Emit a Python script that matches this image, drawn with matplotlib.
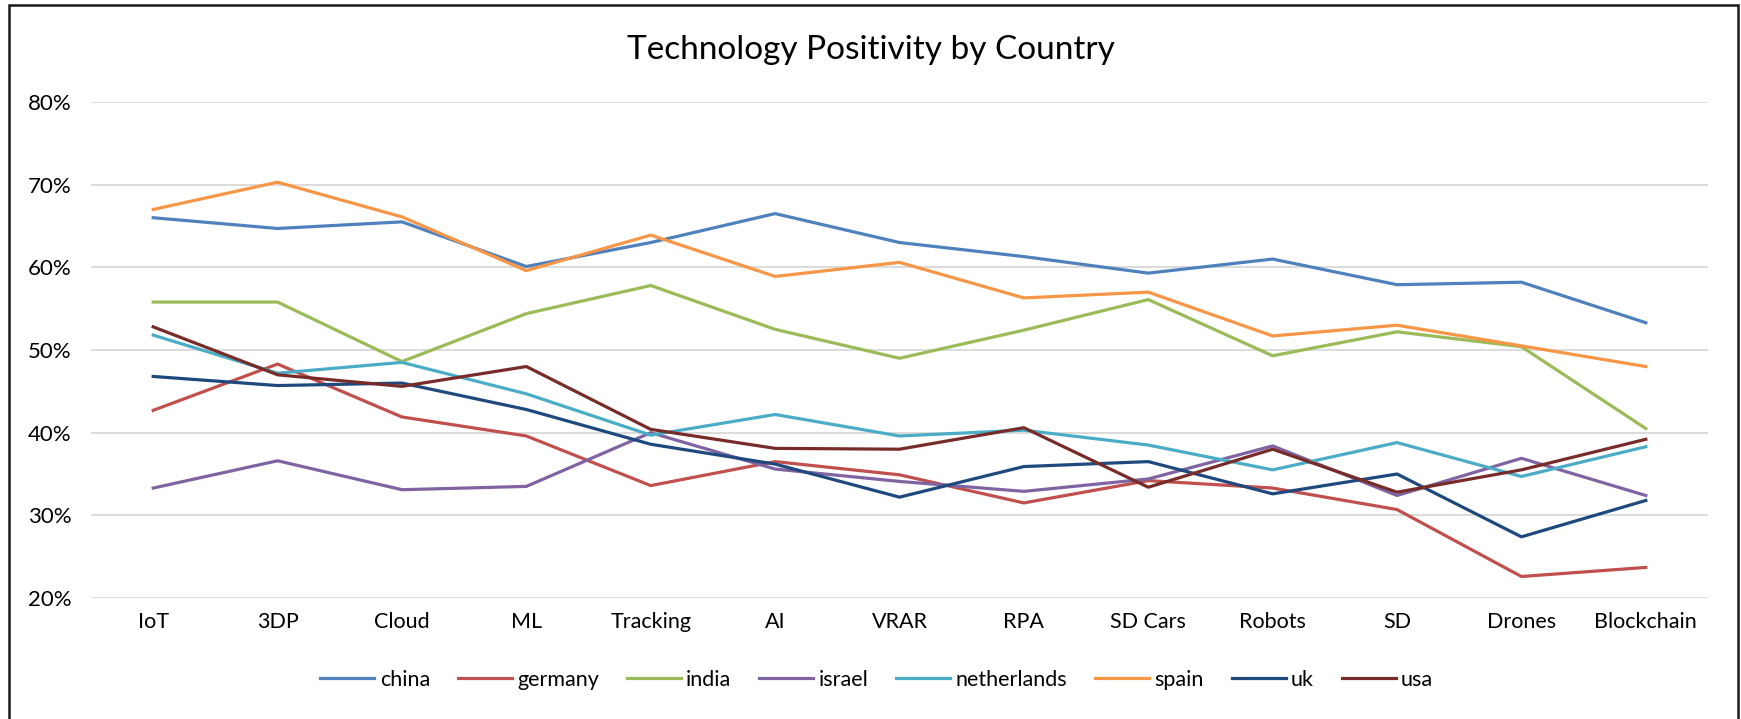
import matplotlib.pyplot as plt
from matplotlib.patches import Rectangle
from matplotlib.ticker import FuncFormatter

# ==========================================
# DATA
# ==========================================
categories = ["IoT", "3DP", "Cloud", "ML", "Tracking", "AI", "VRAR", "RPA",
              "SD Cars", "Robots", "SD", "Drones", "Blockchain"]

china       = [66.0, 64.7, 65.5, 60.1, 63.0, 66.5, 63.0, 61.3, 59.3, 61.0, 57.9, 58.2, 53.3]
germany     = [42.7, 48.3, 41.9, 39.6, 33.6, 36.5, 34.9, 31.5, 34.2, 33.3, 30.7, 22.6, 23.7]
india       = [55.8, 55.8, 48.6, 54.4, 57.8, 52.5, 49.0, 52.4, 56.1, 49.3, 52.2, 50.4, 40.5]
israel      = [33.3, 36.6, 33.1, 33.5, 40.0, 35.6, 34.1, 32.9, 34.4, 38.4, 32.4, 36.9, 32.4]
netherlands = [51.8, 47.2, 48.5, 44.7, 39.7, 42.2, 39.6, 40.3, 38.5, 35.5, 38.8, 34.7, 38.3]
spain       = [67.0, 70.3, 66.1, 59.6, 63.9, 58.9, 60.6, 56.3, 57.0, 51.7, 53.0, 50.5, 48.0]
uk          = [46.8, 45.7, 46.0, 42.8, 38.6, 36.2, 32.2, 35.9, 36.5, 32.6, 35.0, 27.4, 31.8]
usa         = [52.8, 47.0, 45.6, 48.0, 40.4, 38.1, 38.0, 40.6, 33.4, 38.0, 32.8, 35.5, 39.2]

series_names = ["china", "germany", "india", "israel", "netherlands", "spain", "uk", "usa"]
series_values = [china, germany, india, israel, netherlands, spain, uk, usa]
colors = ["#4F81BD", "#C0504D", "#9BBB59", "#8064A2", "#4BACC6", "#F79646", "#1F497D", "#772C2A"]

yticks = [20, 30, 40, 50, 60, 70, 80]

# ==========================================
# PLOT
# ==========================================
plt.rcParams['font.family'] = ['Lato', 'DejaVu Sans']

W, H = 1741, 719
fig = plt.figure(figsize=(W / 100, H / 100), dpi=100, facecolor='white')
ax = fig.add_axes([91 / W, 1 - 598 / H, (1708 - 91) / W, (598 - 102) / H])

x = range(len(categories))
for name, vals, c in zip(series_names, series_values, colors):
    ax.plot(x, vals, color=c, lw=2.3, label=name, solid_joinstyle='round')

ax.set_xlim(-0.5, len(categories) - 0.5)
ax.set_ylim(20, 80)
ax.set_yticks(yticks)
ax.yaxis.set_major_formatter(FuncFormatter(lambda v, p: f"{int(v)}%"))
ax.set_xticks(list(x))
ax.set_xticklabels(categories)
ax.grid(axis='y', color='#D9D9D9', lw=1.3)
ax.set_axisbelow(True)
for s in ax.spines.values():
    s.set_visible(False)
ax.tick_params(axis='y', length=0, labelsize=16, pad=14)
ax.tick_params(axis='x', length=0, labelsize=15.5, pad=10)

fig.text(0.5, 1 - 50 / H, "Technology Positivity by Country", ha='center', va='center',
         fontsize=24)

# legend sits a bit left of the plot centre, as in the original
ax.legend(loc='center', bbox_to_anchor=(0.486, (-(680 - 598) / (598 - 102))), ncol=8,
          frameon=False, fontsize=15.5, handlelength=2.5, handletextpad=0.25,
          columnspacing=1.3)

# chart border
fig.patches.append(Rectangle((9 / W, -0.01), (1738 - 9) / W, 1.01 - 5 / H,
                             transform=fig.transFigure, fill=False,
                             edgecolor='#1a1a1a', lw=1.8))

fig.savefig("out.png", dpi=100, facecolor='white')
